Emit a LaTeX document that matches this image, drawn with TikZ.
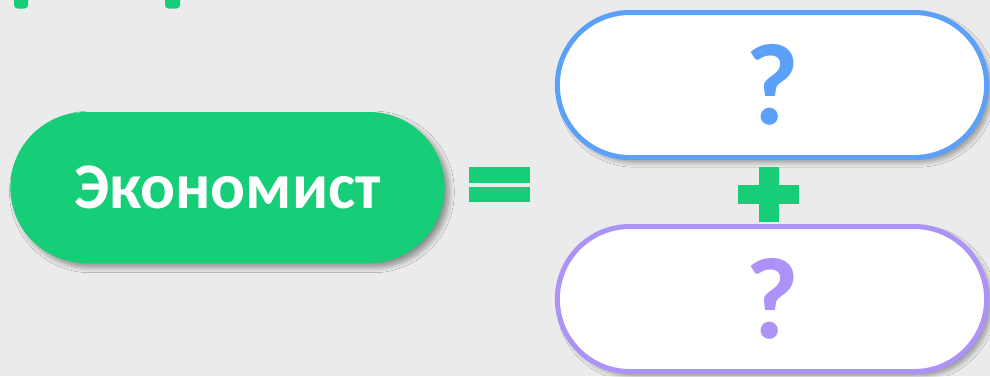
\documentclass[tikz,border=0pt]{standalone}
\usepackage{fontspec}
\setmainfont{Carlito}
\usetikzlibrary{shapes.misc, shadows, shadows.blur, positioning}

\definecolor{bggray}{HTML}{EBEBEB}
\definecolor{econgreen}{HTML}{17CE78}
\definecolor{askblue}{HTML}{5BA0F9}
\definecolor{askpurple}{HTML}{AD93F8}

\begin{document}
\begin{tikzpicture}[
    soft/.style={blur shadow={shadow xshift=2.5pt, shadow yshift=-2.5pt, shadow blur steps=8, shadow blur radius=3pt, shadow opacity=40}},
    pill/.style={rounded rectangle, minimum width=8.82cm, minimum height=2.9cm, line width=0.1cm, fill=white, soft},
    ask/.style={font=\fontsize{66}{66}\selectfont\bfseries},
    bar/.style={fill=econgreen},
]

% background
\fill[bggray] (0,0) rectangle (19.8,-7.52);
\useasboundingbox (0,0) rectangle (19.8,-7.52);

% bits cut off at the top
\fill[bar, rounded corners=2pt] (0.28,0.3) rectangle (0.56,-0.17);
\fill[bar, rounded corners=2pt] (3.30,0.3) rectangle (3.60,-0.17);

% Economist (left)
\node[rounded rectangle, fill=econgreen, minimum width=8.92cm, minimum height=3.02cm, soft,
    text=white, font=\fontsize{37}{40}\selectfont\bfseries] (econ) at (4.55,-3.75) {Экономист};

% equals sign
\fill[bar] (9.38,-3.34) rectangle (10.60,-3.66);
\fill[bar] (9.38,-3.74) rectangle (10.60,-4.04);

% unknown parts (right)
\node[pill, draw=askblue] (first) at (15.44,-1.70) {};
\node[ask, text=askblue] at (first.center) {?};

\node[pill, draw=askpurple] (second) at (15.44,-5.98) {};
\node[ask, text=askpurple] at (second.center) {?};

% plus sign
\fill[bar] (15.18,-3.34) rectangle (15.58,-4.44);
\fill[bar] (14.76,-3.70) rectangle (15.98,-4.08);

\end{tikzpicture}
\end{document}
